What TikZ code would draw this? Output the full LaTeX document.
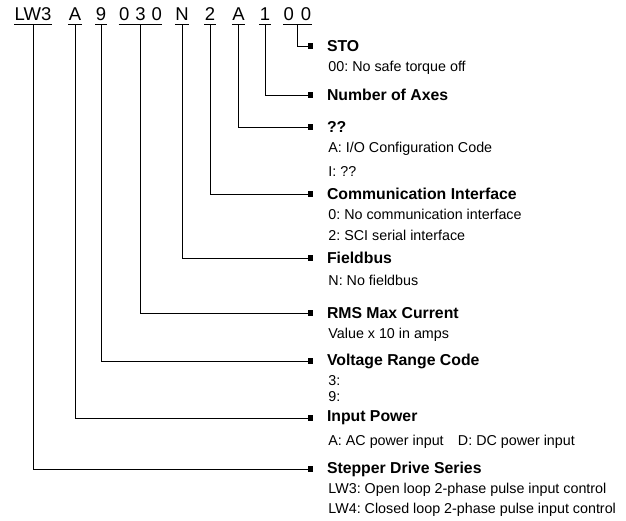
\documentclass[tikz,border=0pt]{standalone}
\usepackage{fontspec}
\setmainfont{Liberation Sans}
\usetikzlibrary{arrows.meta}
\frenchspacing

\tikzset{every picture/.style={line width=0.9pt}}
\tikzset{
  code/.style={anchor=base,inner sep=0pt,font=\fontsize{18.5}{20}\selectfont},
  head/.style={anchor=west,inner sep=0pt,outer xsep=14pt,font=\fontsize{15.8}{17}\bfseries\selectfont},
  desc/.style={anchor=west,inner sep=0pt,font=\fontsize{14.3}{16}\selectfont},
  lead/.style={-{Square[length=5.5pt,width=5.5pt]}},
  uline/.style={line width=0.8pt},
}

\begin{document}
\begin{tikzpicture}[x=1pt,y=1pt,yscale=-1,xscale=1]
\useasboundingbox (0,0) rectangle (626,520);

% Code Nodes
\node [code] (c1) at (33,20.5) {LW3};
\node [code] (c2) at (75,20.5) {A};
\node [code] (c3) at (101,20.5) {9};
\node [code] (c4) at (140.5,20.5) {0\hspace{6pt}3\hspace{6pt}0};
\node [code] (c5) at (182,20.5) {N};
\node [code] (c6) at (210,20.5) {2};
\node [code] (c7) at (238.5,20.5) {A};
\node [code] (c8) at (265,20.5) {1};
\node [code] (c9) at (297.5,20.5) {0\hspace{7pt}0};

% Underlines
\draw [uline] ([yshift=3.5pt]c1.base west) -- ([yshift=3.5pt]c1.base east);
\draw [uline] ([yshift=3.5pt]c2.base west) -- ([yshift=3.5pt]c2.base east);
\draw [uline] ([yshift=3.5pt]c3.base west) -- ([yshift=3.5pt]c3.base east);
\draw [uline] ([yshift=3.5pt]c4.base west) -- ([yshift=3.5pt]c4.base east);
\draw [uline] ([yshift=3.5pt]c5.base west) -- ([yshift=3.5pt]c5.base east);
\draw [uline] ([yshift=3.5pt]c6.base west) -- ([yshift=3.5pt]c6.base east);
\draw [uline] ([yshift=3.5pt]c7.base west) -- ([yshift=3.5pt]c7.base east);
\draw [uline] ([yshift=3.5pt]c8.base west) -- ([yshift=3.5pt]c8.base east);
\draw [uline] ([yshift=3.5pt]c9.base west) -- ([yshift=3.5pt]c9.base east);

% Heading Nodes
\node [head] (h9) at (313,46) {STO};
\node [head] (h8) at (313,95) {Number of Axes};
\node [head] (h7) at (313,127) {??};
\node [head] (h6) at (313,194) {Communication Interface};
\node [head] (h5) at (313,258) {Fieldbus};
\node [head] (h4) at (313,313) {RMS Max Current};
\node [head] (h3) at (313,361) {Voltage Range Code};
\node [head] (h2) at (313,418) {Input Power};
\node [head] (h1) at (313,469) {Stepper Drive Series};

% Text Node
\node [desc] (d9) at (328,68) {00: No safe torque off};
\node [desc] (d7a) at (328,149) {A: I/O Configuration Code};
\node [desc] (d7b) at (328,172) {I: ??};
\node [desc] (d6a) at (328,214) {0: No communication interface};
\node [desc] (d6b) at (328,235) {2: SCI serial interface};
\node [desc] (d5) at (328,280) {N: No fieldbus};
\node [desc] (d4) at (328,335) {Value x 10 in amps};
\node [desc] (d3a) at (328,381) {3:};
\node [desc] (d3b) at (328,397) {9:};
\node [desc] (d2) at (328,442) {A: AC power input\quad D: DC power input};
\node [desc] (d1a) at (328,490) {LW3: Open loop 2-phase pulse input control};
\node [desc] (d1b) at (328,510) {LW4: Closed loop 2-phase pulse input control};

% Leader Lines
\draw [lead] ([yshift=3.5pt]c1.base) |- (h1.west);
\draw [lead] ([yshift=3.5pt]c2.base) |- (h2.west);
\draw [lead] ([yshift=3.5pt]c3.base) |- (h3.west);
\draw [lead] ([yshift=3.5pt]c4.base) |- (h4.west);
\draw [lead] ([yshift=3.5pt]c5.base) |- (h5.west);
\draw [lead] ([yshift=3.5pt]c6.base) |- (h6.west);
\draw [lead] ([yshift=3.5pt]c7.base) |- (h7.west);
\draw [lead] ([yshift=3.5pt]c8.base) |- (h8.west);
\draw [lead] ([yshift=3.5pt]c9.base) |- (h9.west);

\end{tikzpicture}
\end{document}
